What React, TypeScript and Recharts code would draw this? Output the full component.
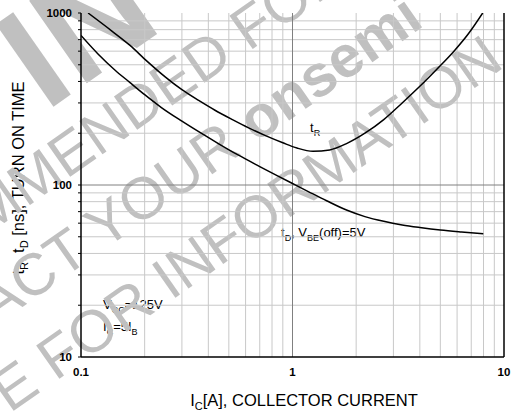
import React from "react";
import { LineChart, Line, XAxis, YAxis, ReferenceLine } from "recharts";

// I_C [A] vs turn-on time [ns]
const tRCurrent = [0.108, 0.14, 0.17, 0.205, 0.25, 0.3, 0.36, 0.43, 0.52, 0.62, 0.75, 0.9, 1.05, 1.25, 1.5, 1.8, 2.2, 2.7, 3.3, 4.0, 4.8, 5.8, 6.8, 7.93];
const tRTime = [1000, 785, 650, 525, 425, 358, 310, 272, 240, 215, 193, 176, 164, 157, 160, 174, 200, 240, 300, 375, 470, 600, 760, 1000];

const tDCurrent = [0.1, 0.12, 0.145, 0.17, 0.2, 0.24, 0.3, 0.37, 0.45, 0.55, 0.7, 0.85, 1.0, 1.2, 1.45, 1.8, 2.2, 2.7, 3.3, 4.0, 5.0, 6.3, 7.98];
const tDTime = [740, 580, 465, 395, 335, 282, 235, 200, 173, 150, 128, 113, 102, 91, 81, 71.5, 65.5, 61.5, 58.6, 56.6, 54.7, 53.3, 52.1];

const xTicks = [0.1, 1, 10];
const yLabels = [10, 100, 1000];
const minorX = [0.2, 0.3, 0.4, 0.5, 0.6, 0.7, 0.8, 0.9, 2, 3, 4, 5, 6, 7, 8, 9];
const minorY = [20, 30, 40, 50, 60, 70, 80, 90, 200, 300, 400, 500, 600, 700, 800, 900];
const majorX = [1];
const majorY = [100];
const yTicksAll = [10, ...minorY.slice(0, 8), 100, ...minorY.slice(8), 1000];

const tRData = tRCurrent.map((x, i) => ({ x, y: tRTime[i] }));
const tDData = tDCurrent.map((x, i) => ({ x, y: tDTime[i] }));

const FONT = "'Liberation Sans', Arial, sans-serif";
const WM = "#c0c0c0";

const YTick = (props: any) => {
  const { x, y, payload } = props;
  if (!yLabels.includes(payload.value)) return <g />;
  return (
    <text x={x} y={y} dy={4} textAnchor="end" fontSize={11.5} fontWeight="bold" fill="#000" fontFamily={FONT}>
      {payload.value}
    </text>
  );
};

const XTick = (props: any) => {
  const { x, y, payload } = props;
  return (
    <text x={x} y={y} dy={9} textAnchor="middle" fontSize={11.5} fontWeight="bold" fill="#000" fontFamily={FONT}>
      {payload.value}
    </text>
  );
};

// rotated watermark, s = along the baseline, d = across it
const wm = (s: number, d: number) => `translate(${0.819 * s + 0.574 * d},${-0.574 * s + 0.819 * d}) rotate(-35)`;

function Watermark() {
  return (
    <g fill={WM} fontFamily={FONT} style={{ pointerEvents: "none" }}>
      <text transform={wm(-27, 118)} fontSize={146} fontWeight="bold">IN</text>
      <text transform={wm(-98, 185)} fontSize={59} textAnchor="end">NOT RECOM</text>
      <text transform={wm(-98, 185)} fontSize={59}>MENDED FOR NEW DESIGN</text>
      <text transform={wm(334, 264.5)} fontSize={59} textAnchor="end">
        <tspan>CONTACT YOUR</tspan>
        <tspan dx={16} fontWeight="bold">onsemi</tspan>
      </text>
      <text transform={wm(376, 344.5)} fontSize={59} textAnchor="end">REPRESENTATIVE FOR INFORMATION</text>
    </g>
  );
}

function Labels() {
  return (
    <g fontFamily={FONT} fill="#000">
      <text x={310} y={132} fontSize={13}>
        t<tspan dy={4} fontSize={9}>R</tspan>
      </text>
      <rect x={278} y={225} width={94} height={17} fill="#fff" />
      <text x={281} y={237} fontSize={13}>
        t<tspan dy={4} fontSize={9}>D</tspan>
        <tspan dy={-4}>, V</tspan>
        <tspan dy={4} fontSize={9}>BE</tspan>
        <tspan dy={-4}>(off)=5V</tspan>
      </text>
      <text x={103} y={309} fontSize={13}>
        V<tspan dy={4} fontSize={9}>CC</tspan>
        <tspan dy={-4}>=125V</tspan>
      </text>
      <text x={103} y={331} fontSize={13}>
        I<tspan dy={4} fontSize={9}>C</tspan>
        <tspan dy={-4}>=5I</tspan>
        <tspan dy={4} fontSize={9}>B</tspan>
      </text>
      <text transform="translate(24,178) rotate(-90)" fontSize={16.5} textAnchor="middle">
        t<tspan dy={4} fontSize={11}>R</tspan>
        <tspan dy={-4}>, t</tspan>
        <tspan dy={4} fontSize={11}>D</tspan>
        <tspan dy={-4}> [ns], TURN ON TIME</tspan>
      </text>
      <text x={304} y={406} fontSize={16.5} textAnchor="middle">
        I<tspan dy={4} fontSize={11}>C</tspan>
        <tspan dy={-4}>[A], COLLECTOR CURRENT</tspan>
      </text>
    </g>
  );
}

export default function App() {
  return (
    <div style={{ position: "absolute", left: 0, top: 0, width: 517, height: 418, background: "#fff" }}>
      <LineChart width={517} height={418} margin={{ top: 13, right: 0, bottom: 0, left: 0 }}>
        <XAxis
          type="number"
          dataKey="x"
          scale="log"
          domain={[0.1, 10]}
          ticks={xTicks}
          allowDataOverflow
          height={61}
          tickLine={false}
          tickSize={4}
          tickMargin={6}
          tick={<XTick />}
          axisLine={{ stroke: "#000", strokeWidth: 1.5 }}
        />
        <XAxis
          xAxisId="top"
          orientation="top"
          type="number"
          dataKey="x"
          scale="log"
          domain={[0.1, 10]}
          ticks={xTicks}
          allowDataOverflow
          height={0}
          tick={false}
          tickLine={false}
          axisLine={{ stroke: "#000", strokeWidth: 1.5 }}
        />
        <YAxis
          type="number"
          scale="log"
          domain={[10, 1000]}
          ticks={yTicksAll}
          interval={0}
          allowDataOverflow
          width={81}
          tickSize={3}
          tickMargin={6}
          tick={<YTick />}
          tickLine={{ stroke: "#000" }}
          axisLine={{ stroke: "#000", strokeWidth: 1.5 }}
        />
        <YAxis
          yAxisId="right"
          orientation="right"
          type="number"
          scale="log"
          domain={[10, 1000]}
          ticks={yTicksAll}
          interval={0}
          allowDataOverflow
          width={13}
          tickSize={3}
          tick={false}
          tickLine={{ stroke: "#000" }}
          axisLine={{ stroke: "#000", strokeWidth: 1.5 }}
        />
        {minorX.map((v) => (
          <ReferenceLine key={"mx" + v} x={v} stroke="#c8c8c8" strokeWidth={1} />
        ))}
        {minorY.map((v) => (
          <ReferenceLine key={"my" + v} y={v} stroke="#c8c8c8" strokeWidth={1} />
        ))}
        {majorX.map((v) => (
          <ReferenceLine key={"Mx" + v} x={v} stroke="#808080" strokeWidth={1} />
        ))}
        {majorY.map((v) => (
          <ReferenceLine key={"My" + v} y={v} stroke="#808080" strokeWidth={1} />
        ))}
        <Labels />
        <Watermark />
        <Line data={tRData} dataKey="y" type="monotone" stroke="#000" strokeWidth={1.5} dot={false} isAnimationActive={false} />
        <Line data={tDData} dataKey="y" type="monotone" stroke="#000" strokeWidth={1.5} dot={false} isAnimationActive={false} />
      </LineChart>
    </div>
  );
}
